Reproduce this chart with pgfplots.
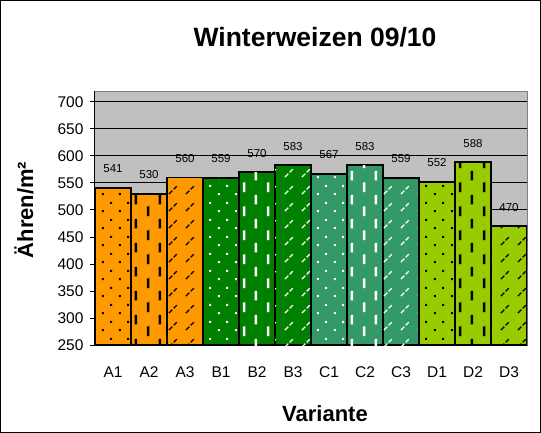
\documentclass[border=0pt]{standalone}
\usepackage{fontspec}
\setmainfont{Liberation Sans}
\usepackage{pgfplots}
\pgfplotsset{compat=1.18}
\usetikzlibrary{patterns.meta}

% Fill patterns of the bars (uncolored, so pattern color sets their colour)
\pgfdeclarepattern{
  name=smalldots,
  bottom left={\pgfpoint{0pt}{0pt}},
  top right={\pgfpoint{16.6pt}{16.6pt}},
  tile size={\pgfpoint{16.6pt}{16.6pt}},
  code={
    \pgfpathrectangle{\pgfpoint{2pt}{2pt}}{\pgfpoint{2pt}{2pt}}
    \pgfpathrectangle{\pgfpoint{10.3pt}{10.3pt}}{\pgfpoint{2pt}{2pt}}
    \pgfusepath{fill}
  }
}
\pgfdeclarepattern{
  name=vdashes,
  bottom left={\pgfpoint{0pt}{0pt}},
  top right={\pgfpoint{24pt}{24pt}},
  tile size={\pgfpoint{24pt}{24pt}},
  code={
    \pgfpathrectangle{\pgfpoint{3pt}{1pt}}{\pgfpoint{2.6pt}{10pt}}
    \pgfpathrectangle{\pgfpoint{15pt}{13pt}}{\pgfpoint{2.6pt}{10pt}}
    \pgfusepath{fill}
  }
}
\pgfdeclarepattern{
  name=diagdashes,
  bottom left={\pgfpoint{0pt}{0pt}},
  top right={\pgfpoint{16.6pt}{16.6pt}},
  tile size={\pgfpoint{16.6pt}{16.6pt}},
  code={
    \pgfsetlinewidth{1.3pt}
    \pgfpathmoveto{\pgfpoint{3pt}{3pt}}
    \pgfpathlineto{\pgfpoint{6.5pt}{6.5pt}}
    \pgfpathmoveto{\pgfpoint{7.8pt}{7.8pt}}
    \pgfpathlineto{\pgfpoint{11pt}{11pt}}
    \pgfusepath{stroke}
  }
}

\definecolor{xlorange}{HTML}{FF9900}
\definecolor{xlgreen}{HTML}{008000}
\definecolor{xlsea}{HTML}{339966}
\definecolor{xllime}{HTML}{99CC00}
\definecolor{plotgrey}{HTML}{C0C0C0}
\definecolor{framegrey}{HTML}{808080}

\pgfplotsset{
  barstyle/.style n args={3}{
    draw=black, line width=1.8pt, fill=#1, bar shift=0pt,
    postaction={pattern={#2}, pattern color=#3, draw=none}
  }
}

\begin{document}
\begin{tikzpicture}
  % outer frame of the chart
  \draw[black, line width=0.8pt] (0.4pt,-0.4pt) rectangle (540.6pt,-432.6pt);

  \begin{axis}[
    at={(95pt,-345pt)}, anchor=south west,
    width=432pt, height=254pt, scale only axis,
    xmin=-0.5, xmax=11.5, ymin=250, ymax=720,
    ybar, bar width=1,
    axis x line*=bottom, axis y line*=left,
    axis line style={black, line width=1pt},
    axis background/.style={fill=plotgrey, draw=framegrey, line width=1pt},
    ymajorgrids, major grid style={black, line width=0.9pt},
    ytick={250,300,...,700},
    xtick={0,...,11},
    xticklabels={A1,A2,A3,B1,B2,B3,C1,C2,C3,D1,D2,D3},
    x tick style={draw=none},
    extra x ticks={-0.5,0.5,...,11.5},
    extra x tick labels={},
    extra x tick style={grid=none, tick align=outside, major tick length=5pt,
      tick style={black, line width=0.8pt}},
    y tick style={black, line width=0.8pt},
    tick align=outside, major tick length=5pt,
    /pgf/number format/assume math mode=true,
    tick label style={font=\fontsize{15.5}{17}\selectfont, black},
    xticklabel style={yshift=-13pt},
    yticklabel style={xshift=-3pt},
    nodes near coords,
    every node near coord/.append style={font=\fontsize{11.5}{13}\selectfont,
      black, anchor=south, inner sep=0pt, yshift=14pt},
  ]
    \addplot[barstyle={xlorange}{smalldots}{black}] coordinates {(0,541)};
    \addplot[barstyle={xlorange}{vdashes}{black}] coordinates {(1,530)};
    \addplot[barstyle={xlorange}{diagdashes}{black}] coordinates {(2,560)};
    \addplot[barstyle={xlgreen}{smalldots}{white}] coordinates {(3,559)};
    \addplot[barstyle={xlgreen}{vdashes}{white}] coordinates {(4,570)};
    \addplot[barstyle={xlgreen}{diagdashes}{white}] coordinates {(5,583)};
    \addplot[barstyle={xlsea}{smalldots}{white}] coordinates {(6,567)};
    \addplot[barstyle={xlsea}{vdashes}{white}] coordinates {(7,583)};
    \addplot[barstyle={xlsea}{diagdashes}{white}] coordinates {(8,559)};
    \addplot[barstyle={xllime}{smalldots}{black}] coordinates {(9,552)};
    \addplot[barstyle={xllime}{vdashes}{black}] coordinates {(10,588)};
    \addplot[barstyle={xllime}{diagdashes}{black}] coordinates {(11,470)};
  \end{axis}

  \node[font=\fontsize{26.5}{30}\selectfont\bfseries] at (315pt,-37pt) {Winterweizen 09/10};
  \node[font=\fontsize{22}{26}\selectfont\bfseries] at (325pt,-414pt) {Variante};
  \node[font=\fontsize{22}{26}\selectfont\bfseries, rotate=90] at (24pt,-210pt) {Ähren/m²};
\end{tikzpicture}
\end{document}
